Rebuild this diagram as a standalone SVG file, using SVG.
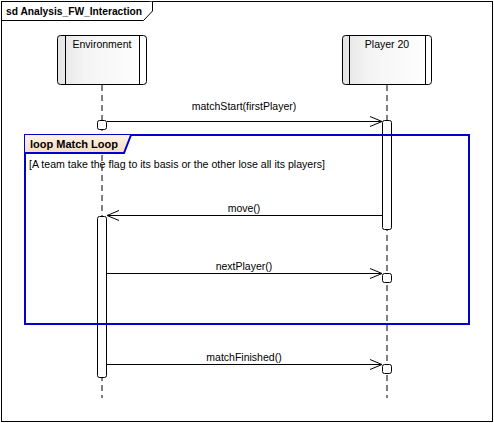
<svg xmlns="http://www.w3.org/2000/svg" width="494" height="423" viewBox="0 0 494 423">
<defs>
<linearGradient id="lg" x1="0" y1="0" x2="1" y2="0">
<stop offset="0" stop-color="#e4e4e4"/>
<stop offset="0.3" stop-color="#f4f4f4"/>
<stop offset="1" stop-color="#ffffff"/>
</linearGradient>
<linearGradient id="og" x1="0" y1="0" x2="0" y2="1">
<stop offset="0" stop-color="#fdf3e8"/>
<stop offset="1" stop-color="#f7dcc0"/>
</linearGradient>
<marker id="oa" markerWidth="14" markerHeight="12" refX="12" refY="6" orient="auto" markerUnits="userSpaceOnUse">
<path d="M0,1 L12,6 L0,11" fill="none" stroke="#000" stroke-width="1"/>
</marker>
</defs>
<style>
text{font-family:"Liberation Sans",Arial,sans-serif;font-size:10.5px;fill:#000}
.b{font-weight:bold;font-size:10.5px}
.lb{fill:url(#lg);stroke:#000;stroke-width:1}
.ll{stroke:#000;stroke-width:1;stroke-dasharray:6,4;fill:none}
.act{fill:#fff;stroke:#000;stroke-width:1}
.msg{stroke:#000;stroke-width:1;fill:none;marker-end:url(#oa)}
</style>
<rect width="494" height="423" fill="#fff"/>
<g id="frame">
<rect x="1.5" y="1.5" width="491" height="420" fill="none" stroke="#000"/>
<path d="M1.5,20.5 H143.5 L152.5,11 V1.5" fill="#fff" stroke="#000"/>
<text x="6" y="15" class="b" textLength="136" lengthAdjust="spacingAndGlyphs">sd Analysis_FW_Interaction</text>
</g>
<g id="environment">
<line x1="102" y1="85" x2="102" y2="398" class="ll"/>
<rect x="57.5" y="35.5" width="89" height="49" rx="3" class="lb"/>
<line x1="65.5" y1="35.5" x2="65.5" y2="84.5" stroke="#000"/>
<line x1="139.5" y1="35.5" x2="139.5" y2="84.5" stroke="#000"/>
<text x="102" y="48" text-anchor="middle">Environment</text>
</g>
<g id="player20">
<line x1="387" y1="85" x2="387" y2="398" class="ll"/>
<rect x="342.5" y="35.5" width="89" height="49" rx="3" class="lb"/>
<line x1="349.5" y1="35.5" x2="349.5" y2="84.5" stroke="#000"/>
<line x1="425.5" y1="35.5" x2="425.5" y2="84.5" stroke="#000"/>
<text x="387" y="48" text-anchor="middle">Player 20</text>
</g>
<g id="activations">
<rect x="97.5" y="120.5" width="9" height="9" rx="2" class="act"/>
<rect x="382.5" y="120.5" width="9" height="109" rx="2" class="act"/>
<rect x="97.5" y="216.5" width="9" height="161" rx="2" class="act"/>
<rect x="382.5" y="273.5" width="9" height="9" rx="2" class="act"/>
<rect x="382.5" y="364.5" width="9" height="9" rx="2" class="act"/>
</g>
<g id="loop">
<rect x="25" y="135" width="444" height="189" fill="none" stroke="#0000cc" stroke-width="2"/>
<path d="M25,135 H131 L124,153 H25 Z" fill="url(#og)" stroke="none"/>
<path d="M25,153 H124 L131,135" fill="none" stroke="#0000cc" stroke-width="2"/>
<text x="30" y="148" class="b" textLength="88" lengthAdjust="spacingAndGlyphs">loop Match Loop</text>
<text x="29" y="168" textLength="296" lengthAdjust="spacingAndGlyphs">[A team take the flag to its basis or the other lose all its players]</text>
</g>
<g id="connectors">
<line x1="107" y1="121.5" x2="382" y2="121.5" class="msg"/>
<text x="244" y="110" text-anchor="middle">matchStart(firstPlayer)</text>
<line x1="382" y1="215.5" x2="107" y2="215.5" class="msg"/>
<text x="244" y="212" text-anchor="middle">move()</text>
<line x1="107" y1="273.5" x2="382" y2="273.5" class="msg"/>
<text x="244" y="270" text-anchor="middle">nextPlayer()</text>
<line x1="107" y1="364.5" x2="382" y2="364.5" class="msg"/>
<text x="244" y="361" text-anchor="middle">matchFinished()</text>
</g>
</svg>
